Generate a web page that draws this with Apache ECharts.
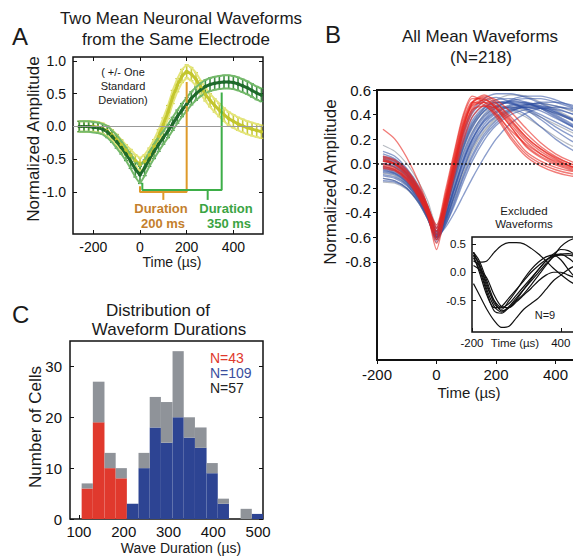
<!DOCTYPE html>
<html><head><meta charset="utf-8">
<script src="https://cdn.jsdelivr.net/npm/echarts@6/dist/echarts.min.js"></script>
<style>html,body{margin:0;padding:0;background:#fff}#c{width:573px;height:557px}</style>
</head><body><div id="c"></div>
<script>
// ---------- Panel A: two mean waveforms (+/- SD) ----------
const tA = [-260,-240,-220,-200,-180,-160,-140,-120,-100,-80,-60,-40,-20,0,20,40,60,80,100,120,140,160,180,200,220,240,260,280,300,320,340,360,380,400,420,440,460,480,500,520];
const yellowMean = [0,0,0,0,-0.01,-0.03,-0.07,-0.13,-0.2,-0.28,-0.36,-0.44,-0.52,-0.58,-0.53,-0.43,-0.3,-0.15,0.03,0.22,0.45,0.63,0.77,0.84,0.8,0.72,0.6,0.49,0.4,0.32,0.25,0.18,0.12,0.08,0.04,0.01,-0.02,-0.04,-0.06,-0.08];
const yellowSD = [0.08,0.08,0.08,0.08,0.08,0.08,0.08,0.08,0.08,0.08,0.08,0.09,0.09,0.1,0.1,0.1,0.1,0.1,0.1,0.1,0.1,0.1,0.1,0.1,0.1,0.1,0.1,0.1,0.1,0.1,0.1,0.1,0.1,0.1,0.1,0.1,0.1,0.1,0.1,0.1];
const greenMean = [0,0,0,-0.01,-0.02,-0.04,-0.08,-0.15,-0.23,-0.32,-0.42,-0.53,-0.65,-0.74,-0.63,-0.5,-0.38,-0.27,-0.17,-0.07,0.04,0.15,0.25,0.34,0.43,0.5,0.56,0.61,0.64,0.66,0.67,0.68,0.68,0.67,0.65,0.62,0.59,0.55,0.51,0.48];
const greenSD = [0.08,0.08,0.08,0.08,0.08,0.08,0.09,0.09,0.1,0.1,0.1,0.11,0.12,0.13,0.12,0.11,0.11,0.11,0.1,0.1,0.1,0.1,0.1,0.1,0.1,0.1,0.1,0.1,0.1,0.1,0.1,0.1,0.1,0.1,0.1,0.1,0.1,0.1,0.1,0.1];
const orangeBracket = [[0,-0.91],[0,-1.0],[200,-1.0],[200,0.68]];
const orangeTick = [[100,-1.0],[100,-1.12]];
const greenBracket = [[10,-0.86],[10,-0.97],[350,-0.97],[350,0.52]];
const greenTick = [[290,-0.97],[290,-1.12]];
const ticksAx = [-200,0,200,400];
const ticksAy = [-1.0,-0.5,0,0.5,1.0];

// ---------- Panel B: all mean waveforms ----------
const tB = [-180,-140,-100,-60,-30,0,30,60,90,120,160,200,250,300,350,400,450,500,550,600];
const redWaves = [
  [0.02,-0.01,-0.1,-0.24,-0.38,-0.55,-0.3,0.0,0.3,0.47,0.5,0.42,0.25,0.1,0.02,-0.03,-0.06,-0.07,-0.07,-0.06],
  [0.05,0.02,-0.06,-0.2,-0.35,-0.52,-0.25,0.08,0.38,0.53,0.53,0.45,0.3,0.15,0.06,0.0,-0.04,-0.06,-0.06,-0.05],
  [-0.02,-0.05,-0.13,-0.27,-0.42,-0.6,-0.35,-0.06,0.22,0.42,0.5,0.46,0.32,0.18,0.08,0.01,-0.03,-0.05,-0.06,-0.06],
  [0.28,0.2,0.05,-0.15,-0.35,-0.62,-0.32,0.0,0.3,0.5,0.56,0.5,0.36,0.22,0.12,0.04,-0.02,-0.05,-0.06,-0.06],
  [0.0,-0.03,-0.11,-0.25,-0.4,-0.58,-0.28,0.05,0.35,0.5,0.48,0.38,0.2,0.06,-0.02,-0.07,-0.1,-0.11,-0.1,-0.09],
  [0.04,0.0,-0.08,-0.22,-0.37,-0.55,-0.3,0.02,0.32,0.48,0.52,0.47,0.35,0.22,0.12,0.05,0.0,-0.03,-0.04,-0.04],
  [-0.04,-0.06,-0.14,-0.28,-0.43,-0.65,-0.4,-0.1,0.18,0.38,0.47,0.45,0.34,0.2,0.1,0.03,-0.02,-0.05,-0.06,-0.06],
  [0.02,0.0,-0.07,-0.21,-0.36,-0.5,-0.22,0.1,0.4,0.55,0.5,0.4,0.22,0.08,0.0,-0.05,-0.08,-0.09,-0.09,-0.08],
  [0.06,0.03,-0.05,-0.19,-0.34,-0.53,-0.27,0.04,0.33,0.5,0.54,0.49,0.38,0.25,0.14,0.06,0.0,-0.04,-0.05,-0.05],
  [-0.01,-0.04,-0.12,-0.26,-0.41,-0.7,-0.38,-0.05,0.25,0.45,0.52,0.45,0.3,0.14,0.05,-0.01,-0.05,-0.08,-0.08,-0.07],
  [0.03,0.0,-0.09,-0.23,-0.39,-0.57,-0.33,-0.03,0.27,0.44,0.47,0.4,0.27,0.16,0.08,0.02,-0.02,-0.04,-0.05,-0.05],
  [-0.03,-0.05,-0.12,-0.25,-0.4,-0.62,-0.36,-0.04,0.28,0.49,0.55,0.52,0.42,0.29,0.17,0.08,0.02,-0.02,-0.04,-0.04]
];
const blueWaves = [
  [0.08,0.04,-0.05,-0.2,-0.36,-0.55,-0.38,-0.14,0.08,0.25,0.4,0.47,0.5,0.5,0.47,0.42,0.36,0.3,0.24,0.19],
  [-0.05,-0.08,-0.15,-0.28,-0.42,-0.6,-0.46,-0.26,-0.05,0.13,0.29,0.38,0.44,0.46,0.45,0.41,0.36,0.3,0.25,0.2],
  [0.02,-0.01,-0.09,-0.23,-0.38,-0.57,-0.35,-0.06,0.18,0.35,0.46,0.5,0.49,0.45,0.4,0.34,0.28,0.22,0.17,0.13],
  [-0.1,-0.12,-0.18,-0.3,-0.43,-0.58,-0.48,-0.3,-0.1,0.07,0.24,0.35,0.43,0.46,0.47,0.45,0.41,0.36,0.31,0.26],
  [0.1,0.06,-0.04,-0.18,-0.34,-0.53,-0.32,-0.02,0.24,0.41,0.51,0.54,0.5,0.45,0.38,0.3,0.23,0.17,0.12,0.08],
  [0.0,-0.03,-0.11,-0.25,-0.4,-0.62,-0.44,-0.2,0.02,0.19,0.34,0.42,0.47,0.48,0.46,0.42,0.37,0.31,0.26,0.21],
  [-0.03,-0.06,-0.13,-0.26,-0.4,-0.55,-0.37,-0.12,0.12,0.29,0.43,0.49,0.51,0.49,0.45,0.39,0.32,0.26,0.2,0.15],
  [-0.14,-0.15,-0.2,-0.31,-0.44,-0.6,-0.5,-0.34,-0.15,0.02,0.19,0.31,0.4,0.44,0.45,0.44,0.41,0.37,0.33,0.28],
  [0.05,0.02,-0.07,-0.21,-0.37,-0.56,-0.33,-0.05,0.2,0.38,0.48,0.52,0.53,0.5,0.45,0.38,0.31,0.24,0.18,0.13],
  [-0.02,-0.05,-0.12,-0.25,-0.39,-0.58,-0.42,-0.18,0.05,0.23,0.38,0.46,0.51,0.53,0.53,0.5,0.46,0.41,0.36,0.31],
  [0.03,0.0,-0.08,-0.22,-0.38,-0.59,-0.4,-0.12,0.13,0.31,0.43,0.47,0.45,0.4,0.3,0.2,0.12,0.06,0.02,0.0],
  [-0.07,-0.09,-0.16,-0.28,-0.42,-0.6,-0.45,-0.23,-0.01,0.17,0.32,0.41,0.46,0.46,0.43,0.37,0.31,0.25,0.2,0.16],
  [0.06,0.03,-0.06,-0.2,-0.35,-0.52,-0.3,0.0,0.26,0.43,0.53,0.57,0.57,0.54,0.49,0.43,0.37,0.31,0.25,0.2],
  [-0.04,-0.07,-0.14,-0.27,-0.41,-0.64,-0.48,-0.26,-0.04,0.15,0.3,0.39,0.45,0.48,0.49,0.47,0.44,0.4,0.35,0.3],
  [0.0,-0.02,-0.1,-0.24,-0.39,-0.57,-0.41,-0.2,0.03,0.2,0.35,0.43,0.48,0.49,0.46,0.4,0.33,0.26,0.2,0.15],
  [-0.09,-0.11,-0.17,-0.3,-0.44,-0.61,-0.5,-0.32,-0.12,0.05,0.22,0.33,0.42,0.47,0.5,0.5,0.48,0.44,0.4,0.35],
  [0.04,0.01,-0.08,-0.22,-0.37,-0.55,-0.36,-0.09,0.16,0.33,0.45,0.5,0.49,0.44,0.36,0.27,0.19,0.13,0.08,0.05],
  [-0.06,-0.08,-0.15,-0.27,-0.41,-0.59,-0.44,-0.21,0.02,0.2,0.36,0.45,0.52,0.55,0.55,0.52,0.47,0.42,0.37,0.32],
  [-0.12,-0.14,-0.2,-0.32,-0.45,-0.6,-0.52,-0.4,-0.26,-0.12,0.05,0.2,0.33,0.41,0.45,0.46,0.45,0.42,0.38,0.34]
];
const grayWaves = [
  [0.15,0.1,0.0,-0.15,-0.3,-0.5,-0.33,-0.08,0.15,0.32,0.45,0.52,0.56,0.55,0.5,0.44,0.38,0.32,0.27,0.22],
  [-0.12,-0.14,-0.2,-0.32,-0.45,-0.6,-0.43,-0.16,0.09,0.26,0.39,0.45,0.46,0.43,0.38,0.32,0.26,0.2,0.15,0.11],
  [0.0,-0.03,-0.1,-0.24,-0.39,-0.56,-0.38,-0.1,0.14,0.3,0.42,0.46,0.44,0.38,0.3,0.22,0.15,0.1,0.06,0.03],
  [-0.08,-0.1,-0.17,-0.29,-0.43,-0.62,-0.47,-0.26,-0.06,0.12,0.27,0.37,0.43,0.46,0.45,0.41,0.36,0.31,0.26,0.22],
  [-0.15,-0.16,-0.21,-0.32,-0.45,-0.58,-0.46,-0.28,-0.08,0.1,0.26,0.36,0.44,0.48,0.49,0.47,0.43,0.38,0.33,0.28]
];
const ticksBx = [-200,0,200,400];
const ticksBy = [-0.8,-0.6,-0.4,-0.2,0,0.2,0.4,0.6];

// ---------- Inset: excluded waveforms ----------
const tI = [-190,-150,-100,-50,0,50,100,150,200,250,300,350,400,450,500];
const excludedWaves = [
  [0.35,0.18,0.2,0.35,0.47,0.52,0.52,0.5,0.42,0.32,0.2,0.07,-0.04,-0.14,-0.22],
  [-0.2,-0.4,-0.65,-0.85,-0.97,-0.95,-0.8,-0.65,-0.55,-0.45,-0.3,-0.15,-0.05,0.05,0.12],
  [0.3,0.0,-0.4,-0.62,-0.6,-0.45,-0.3,-0.15,0.0,0.12,0.22,0.28,0.3,0.3,0.28],
  [0.35,0.1,-0.3,-0.6,-0.7,-0.6,-0.45,-0.3,-0.15,0.0,0.15,0.27,0.32,0.33,0.3],
  [0.25,0.05,-0.35,-0.68,-0.72,-0.62,-0.5,-0.38,-0.22,-0.05,0.12,0.28,0.45,0.55,0.6],
  [0.2,0.12,-0.2,-0.55,-0.65,-0.5,-0.32,-0.12,0.05,0.18,0.27,0.3,0.22,0.05,-0.1],
  [0.3,0.15,-0.25,-0.5,-0.62,-0.55,-0.4,-0.25,-0.1,0.05,0.2,0.3,0.32,0.25,0.15],
  [0.12,0.05,-0.1,-0.4,-0.6,-0.62,-0.52,-0.4,-0.28,-0.15,-0.05,0.0,0.0,-0.05,-0.1],
  [0.35,0.2,-0.15,-0.5,-0.68,-0.62,-0.48,-0.3,-0.12,0.05,0.2,0.32,0.4,0.38,0.3]
];
const ticksIx = [-200,400];
const ticksIy = [-0.5,0,0.5];

// ---------- Panel C: histogram of durations ----------
const binEdges = [106,131,157,182,207,233,258,283,309,334,359,385,410,435,461,486,511];
const redCounts  = [6,19,10,8,0,0,0,0,0,0,0,0,0,0,0,0];
const blueCounts = [0,0,0,0,3,10,18,15,20,16,14,9,3,0,0,1];
const grayCounts = [1,8,3,2,0,3,6,8,13,4,4,2,1,0,2,0];
const ticksCx = [100,200,300,400,500];
const ticksCy = [0,10,20,30];

// ---------- build ----------
const FONT = 'Liberation Sans, Arial, Helvetica, sans-serif';
const chart = echarts.init(document.getElementById('c'), null, {renderer:'svg'});

function xAx(grid, min, max, ticks, opt) {
  return Object.assign({
    type:'value', gridIndex:grid, min:min, max:max, position:'bottom',
    axisLine:{show:false, onZero:false}, splitLine:{show:false},
    axisTick:{show:true, inside:true, length:4, customValues:ticks, lineStyle:{color:'#111', width:1}},
    axisLabel:{show:true, customValues:ticks, color:'#111', fontFamily:FONT, fontSize:14, margin:6}
  }, opt || {});
}
function yAx(grid, min, max, ticks, opt) {
  return Object.assign({
    type:'value', gridIndex:grid, min:min, max:max, position:'left',
    axisLine:{show:false, onZero:false}, splitLine:{show:false},
    axisTick:{show:true, inside:true, length:4, customValues:ticks, lineStyle:{color:'#111', width:1}},
    axisLabel:{show:true, customValues:ticks, color:'#111', fontFamily:FONT, fontSize:14, margin:7,
      formatter:function(v){return v.toFixed(1);}}
  }, opt || {});
}

const xAxes = [
  xAx(0, -287, 527, ticksAx),
  xAx(0, -287, 527, ticksAx, {position:'top', axisLabel:{show:false}}),
  xAx(1, -200, 620, ticksBx, {axisTick:{show:true, inside:false, length:4, customValues:ticksBx, lineStyle:{color:'#111'}},
      axisLabel:{customValues:ticksBx, color:'#111', fontFamily:FONT, fontSize:15, margin:7}}),
  xAx(2, -200, 888, ticksIx, {axisLabel:{customValues:ticksIx, color:'#111', fontFamily:FONT, fontSize:11.5, margin:5}}),
  xAx(3, 80, 511, ticksCx, {axisLabel:{customValues:ticksCx, color:'#111', fontFamily:FONT, fontSize:15, margin:5}})
];
const yAxes = [
  yAx(0, -1.64, 1.06, ticksAy),
  yAx(0, -1.64, 1.06, ticksAy, {position:'right', axisLabel:{show:false}}),
  yAx(1, -1.6, 0.6, ticksBy, {axisTick:{show:true, inside:false, length:4, customValues:ticksBy, lineStyle:{color:'#111'}},
      axisLabel:{customValues:ticksBy, color:'#111', fontFamily:FONT, fontSize:15, margin:6, formatter:function(v){return v.toFixed(1);}}}),
  yAx(2, -1.05, 0.62, ticksIy, {axisLabel:{customValues:ticksIy, color:'#111', fontFamily:FONT, fontSize:11.5, margin:6, formatter:function(v){return v.toFixed(1);}}}),
  yAx(3, 0, 35, ticksCy, {axisLabel:{customValues:ticksCy, color:'#111', fontFamily:FONT, fontSize:15, margin:8, formatter:function(v){return String(v);}}}),
  yAx(3, 0, 35, ticksCy, {position:'right', axisLabel:{show:false}})
];

const series = [];
function pairs(ts, vs) { return ts.map(function(t,i){return [t, vs[i]];}); }

// Panel A
function errRender(color) {
  return function(params, api) {
    const x = api.value(0), lo = api.value(1), hi = api.value(2);
    const a = api.coord([x, hi]), b = api.coord([x, lo]);
    return {type:'group', children:[
      {type:'line', shape:{x1:a[0], y1:a[1], x2:b[0], y2:b[1]}, style:{stroke:color, lineWidth:1.6}},
      {type:'line', shape:{x1:a[0]-2, y1:a[1], x2:a[0]+2, y2:a[1]}, style:{stroke:color, lineWidth:1.2}},
      {type:'line', shape:{x1:b[0]-2, y1:b[1], x2:b[0]+2, y2:b[1]}, style:{stroke:color, lineWidth:1.2}}
    ]};
  };
}
function addWave(mean, sd, mainColor, lightColor, barColor, first) {
  const up = tA.map(function(t,i){return [t, mean[i]+sd[i]];});
  const lo = tA.map(function(t,i){return [t, mean[i]-sd[i]];});
  const base = {type:'line', xAxisIndex:0, yAxisIndex:0, symbol:'none', silent:true, animation:false};
  const s1 = Object.assign({}, base, {data:up, lineStyle:{color:lightColor, width:2}});
  if (first) s1.markLine = {silent:true, symbol:'none', label:{show:false}, animation:false,
    lineStyle:{color:'#999', width:1, type:'solid'}, data:[{yAxis:0}]};
  series.push(s1);
  series.push(Object.assign({}, base, {data:lo, lineStyle:{color:lightColor, width:2}}));
  series.push({type:'custom', xAxisIndex:0, yAxisIndex:0, silent:true, animation:false,
    renderItem:errRender(barColor), encode:{x:0, y:[1,2]},
    data: tA.map(function(t,i){return [t, mean[i]-sd[i], mean[i]+sd[i]];})});
  series.push(Object.assign({}, base, {data:pairs(tA, mean), lineStyle:{color:mainColor, width:3},
    symbol:'circle', symbolSize:3.5, itemStyle:{color:mainColor}}));
}
addWave(yellowMean, yellowSD, '#C3C62E', '#E4E57A', '#C9CB3C', true);
addWave(greenMean, greenSD, '#1F6A2C', '#74B96A', '#3F8F45', false);
function bracket(data, color) {
  series.push({type:'line', xAxisIndex:0, yAxisIndex:0, symbol:'none', silent:true, animation:false,
    data:data, lineStyle:{color:color, width:2}});
}
bracket(orangeBracket, '#DE9A2A'); bracket(orangeTick, '#DE9A2A');
bracket(greenBracket, '#3DAE48'); bracket(greenTick, '#3DAE48');

// Panel B
function addB(waves, color, opacity, width, first) {
  waves.forEach(function(w, k) {
    const s = {type:'line', xAxisIndex:2, yAxisIndex:2, symbol:'none', silent:true, animation:false,
      smooth:0.25, data:pairs(tB, w), lineStyle:{color:color, width:width, opacity:opacity}};
    if (first && k === 0) s.markLine = {silent:true, symbol:'none', label:{show:false}, animation:false,
      lineStyle:{color:'#111', width:1.5, type:[2,2]}, data:[{yAxis:0}]};
    series.push(s);
  });
}
addB(grayWaves, '#9AA0AA', 0.7, 1.2, true);
addB(blueWaves, '#2E4EA3', 0.55, 1.4, false);
addB(redWaves, '#E8251E', 0.6, 1.4, false);

// Inset
excludedWaves.forEach(function(w) {
  series.push({type:'line', xAxisIndex:3, yAxisIndex:3, symbol:'none', silent:true, animation:false,
    smooth:0.3, data:pairs(tI, w), lineStyle:{color:'#111', width:1.2}});
});

// Panel C
function rectRender(color) {
  return function(params, api) {
    const x0 = api.value(0), x1 = api.value(1), b = api.value(2), t = api.value(3);
    if (!(t > b)) return null;
    const p0 = api.coord([x0, t]), p1 = api.coord([x1, b]);
    return {type:'rect', shape:{x:p0[0], y:p0[1], width:p1[0]-p0[0], height:p1[1]-p0[1]}, style:{fill:color}};
  };
}
function histSeries(baseArr, hArr, color) {
  const data = hArr.map(function(h, i){ const b = baseArr ? baseArr[i] : 0; return [binEdges[i], binEdges[i+1], b, b + h]; });
  series.push({type:'custom', xAxisIndex:4, yAxisIndex:4, silent:true, animation:false,
    renderItem:rectRender(color), encode:{x:[0,1], y:[2,3]}, data:data});
}
histSeries(null, redCounts, '#E0392D');
histSeries(null, blueCounts, '#2D4493');
histSeries(redCounts.map(function(r,i){return r + blueCounts[i];}), grayCounts, '#8F9399');

// Texts
function txt(text, x, y, size, opt) {
  opt = opt || {};
  return {type:'text', x:x, y:y, rotation:opt.rot || 0, z:100, silent:true,
    style:{text:text, fill:opt.color || '#1a1a1a', font:(opt.bold ? 'bold ' : '') + size + 'px ' + FONT,
      textAlign:opt.align || 'center', textVerticalAlign:'middle'}};
}
const graphics = [
  txt('A', 12, 36, 24, {align:'left'}),
  txt('Two Mean Neuronal Waveforms', 181, 18, 17),
  txt('from the Same Electrode', 176, 39, 17),
  txt('Normalized Amplitude', 33, 139, 17, {rot:Math.PI/2}),
  txt('Time (\u00b5s)', 172, 262, 14),
  txt('( +/- One', 123, 72, 11),
  txt('Standard', 123, 86, 11),
  txt('Deviation)', 123, 100, 11),
  txt('Duration', 161, 208, 13, {bold:true, color:'#C47F2E'}),
  txt('200 ms', 163, 223, 13, {bold:true, color:'#C47F2E'}),
  txt('Duration', 226, 208, 13, {bold:true, color:'#3BA443'}),
  txt('350 ms', 229, 223, 13, {bold:true, color:'#3BA443'}),

  txt('B', 325, 34, 24, {align:'left'}),
  txt('All Mean Waveforms', 480, 36, 17),
  txt('(N=218)', 481, 57, 17),
  txt('Normalized Amplitude', 330, 182, 17, {rot:Math.PI/2}),
  txt('Time (\u00b5s)', 469, 392, 15),
  txt('Excluded', 524, 211, 11.5),
  txt('Waveforms', 524, 224, 11.5),
  txt('N=9', 545, 315, 11),
  txt('Time (\u00b5s)', 515, 343, 11.5),

  txt('C', 12, 314, 24, {align:'left'}),
  txt('Distribution of', 158, 310, 17),
  txt('Waveform Durations', 169, 329, 17),
  txt('Number of Cells', 35, 427, 17, {rot:Math.PI/2}),
  txt('Wave Duration (\u00b5s)', 181, 548, 14),
  txt('N=43', 210, 358, 14, {align:'left', color:'#E0392D'}),
  txt('N=109', 210, 373, 14, {align:'left', color:'#3A4E9E'}),
  txt('N=57', 210, 388, 14, {align:'left', color:'#222'})
];

const gridBase = {show:true, borderColor:'#111', containLabel:false, outerBoundsMode:'none', backgroundColor:'transparent'};
chart.setOption({
  animation:false,
  backgroundColor:'#fff',
  grid:[
    Object.assign({}, gridBase, {left:73, top:57, width:190, height:177, borderWidth:1.5}),
    Object.assign({}, gridBase, {left:377, top:90, width:244, height:270, borderWidth:2}),
    Object.assign({}, gridBase, {left:472, top:237, width:161, height:95, borderWidth:1.5, backgroundColor:'#fff'}),
    Object.assign({}, gridBase, {left:70, top:341, width:193, height:178, borderWidth:1.5})
  ],
  xAxis:xAxes,
  yAxis:yAxes,
  series:series,
  graphic:{elements:graphics}
});
</script></body></html>
